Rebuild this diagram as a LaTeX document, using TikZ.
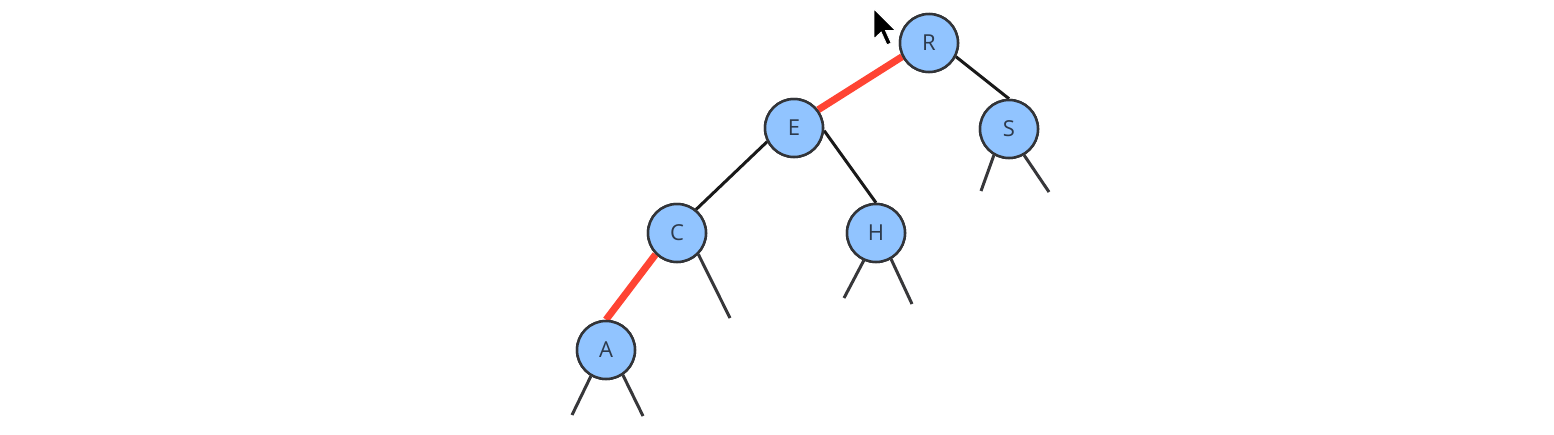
\documentclass[tikz,border=0pt]{standalone}
\usepackage{fontspec}
\setmainfont{Open Sans}
\definecolor{nodefill}{RGB}{145,196,255}
\definecolor{nodeline}{RGB}{50,52,56}
\definecolor{txt}{RGB}{45,58,75}
\definecolor{hot}{RGB}{255,68,51}
\definecolor{stub}{RGB}{55,55,58}
\begin{document}
\begin{tikzpicture}[x=1pt,y=-1pt,
  tnode/.style={circle,draw=nodeline,line width=2.5pt,fill=nodefill,minimum size=58pt,inner sep=0pt,text=txt,font=\fontsize{22}{24}\selectfont},
  edge/.style={draw=black!90,line width=3pt},
  redge/.style={draw=hot,line width=7pt},
  stubline/.style={draw=stub,line width=3pt}]
\useasboundingbox[fill=white] (0,0) rectangle (1554,434);
% nodes (placed first for naming)
\node[tnode] (R) at (929,43) {R};
\node[tnode] (E) at (794,128) {E};
\node[tnode] (S) at (1009,129) {S};
\node[tnode] (C) at (677,233) {C};
\node[tnode] (H) at (876,233) {H};
\node[tnode] (A) at (606,350) {A};
% stub ends
\coordinate (sl) at (981,191);
\coordinate (sr) at (1049,192);
\coordinate (cr) at (730,318);
\coordinate (hl) at (844,298);
\coordinate (hr) at (912,304);
\coordinate (al) at (572,415);
\coordinate (ar) at (643,416);
% edges
\draw[redge] (R.207) -- (E.37);
\draw[edge] (R.-27) -- (S.north);
\draw[edge] (E.207) -- (C.51);
\draw[edge] (E.-5) -- (H.north);
\draw[redge] (C.225) -- (A.north);
\draw[stubline] (S.240) -- (sl);
\draw[stubline] (S.300) -- (sr);
\draw[stubline] (C.-45) -- (cr);
\draw[stubline] (H.246) -- (hl);
\draw[stubline] (H.300) -- (hr);
\draw[stubline] (A.240) -- (al);
\draw[stubline] (A.304) -- (ar);
% redraw nodes on top of the line ends
\foreach \n in {R,E,S,C,H,A} \node[tnode] at (\n) {\n};
% mouse cursor
\filldraw[fill=black,draw=white,line width=0.8pt,shift={(874,9)},scale=1.1]
  (0,0) -- (0,27) -- (6.5,21) -- (11.7,32.5) -- (15.6,31) -- (10.4,19.5) -- (19.5,19.5) -- cycle;
\end{tikzpicture}
\end{document}
